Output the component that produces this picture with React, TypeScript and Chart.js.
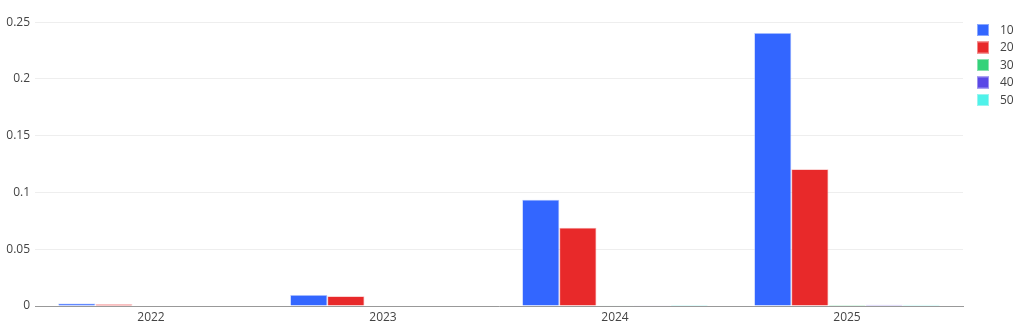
import React, { useEffect, useRef } from "react";
import { Chart, registerables } from "chart.js";

Chart.register(...registerables);

const categories = ["2022", "2023", "2024", "2025"];
const seriesLabels = ["10", "20", "30", "40", "50"];
const series10 = [0.0022, 0.0097, 0.0935, 0.2405];
const series20 = [0.0016, 0.0086, 0.0690, 0.1205];
const series30 = [0, 0, 0.0003, 0.0009];
const series40 = [0, 0, 0.0003, 0.001];
const series50 = [0, 0, 0.0008, 0.0011];
const yTicks = [0, 0.05, 0.1, 0.15, 0.2, 0.25];
const colors = ["#3366ff", "#e8292a", "#34d27a", "#5a48e6", "#4ff2ea"];
const borderColors = [
  "rgba(160,185,255,0.8)",
  "rgba(245,160,160,0.8)",
  "rgba(160,230,190,0.8)",
  "rgba(175,165,240,0.8)",
  "rgba(170,245,240,0.8)",
];

const FONT = "'Open Sans', 'Noto Sans', sans-serif";

export default function App() {
  const ref = useRef<HTMLCanvasElement | null>(null);

  useEffect(() => {
    document.body.style.margin = "0";
    const values = [series10, series20, series30, series40, series50];
    const legendPlugin = {
      id: "customLegend",
      afterDraw(chart: any) {
        const ctx = chart.ctx;
        ctx.save();
        chart.data.datasets.forEach((ds: any, i: number) => {
          const y = 30 + i * 17.5;
          ctx.fillStyle = ds.backgroundColor;
          ctx.fillRect(977, y - 6, 12, 12);
          ctx.strokeStyle = ds.borderColor;
          ctx.lineWidth = 1;
          ctx.strokeRect(977.5, y - 5.5, 11, 11);
          ctx.fillStyle = "#444";
          ctx.font = `12px ${FONT}`;
          ctx.textBaseline = "middle";
          ctx.textAlign = "left";
          ctx.fillText(ds.label, 1000, y + 0.5);
        });
        ctx.restore();
      },
    };
    const chart = new Chart(ref.current as HTMLCanvasElement, {
      type: "bar",
      data: {
        labels: categories,
        datasets: seriesLabels.map((l, i) => ({
          label: l,
          data: values[i],
          backgroundColor: colors[i],
          borderColor: borderColors[i],
          borderWidth: 0.8,
          categoryPercentage: 0.8,
          barPercentage: 1.0,
        })),
      },
      options: {
        animation: false,
        responsive: false,
        maintainAspectRatio: false,
        layout: { padding: { left: 0, right: 61, top: 18, bottom: 0 } },
        plugins: {
          legend: { display: false },
          tooltip: { enabled: false },
        },
        scales: {
          x: {
            grid: { display: false, drawTicks: false },
            border: { display: true, color: "#999", width: 1 },
            ticks: {
              color: "#444",
              font: { family: FONT, size: 12 },
              padding: 4,
            },
            afterFit(axis: any) {
              axis.height = 23;
            },
          },
          y: {
            min: 0,
            max: 0.2536,
            grid: { color: "#eeeeee", drawTicks: false },
            border: { display: false },
            afterBuildTicks(axis: any) {
              axis.ticks = yTicks.map((v) => ({ value: v }));
            },
            ticks: {
              color: "#444",
              font: { family: FONT, size: 12 },
              padding: 5,
              callback: (v: any) => String(Number(v).toString()),
            },
            afterFit(axis: any) {
              axis.width = 35;
            },
          },
        },
      },
      plugins: [legendPlugin],
    });
    return () => chart.destroy();
  }, []);

  return (
    <div style={{ width: 1024, height: 329, background: "#fff" }}>
      <canvas ref={ref} width={1024} height={329} style={{ display: "block" }} />
    </div>
  );
}
